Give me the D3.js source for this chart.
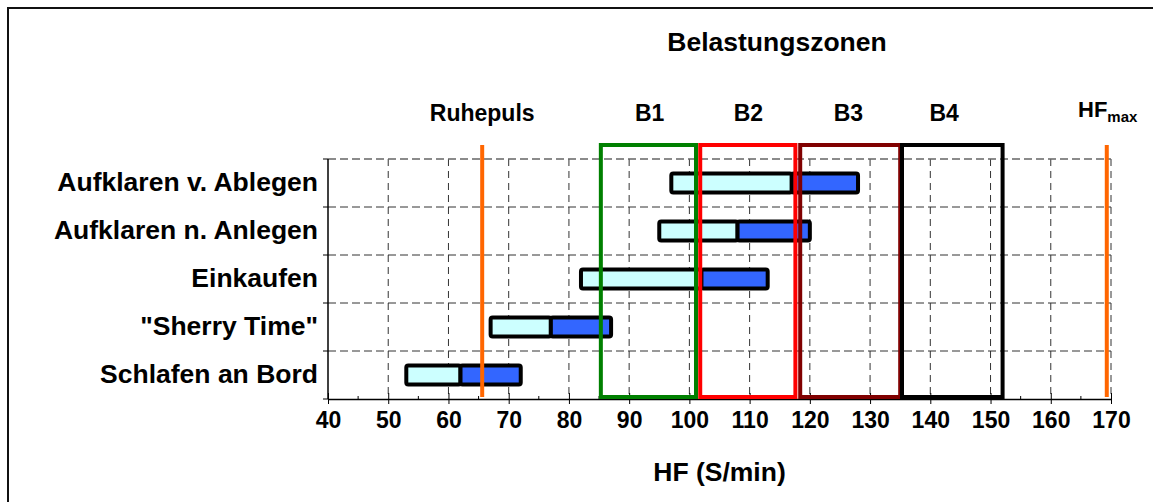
<!DOCTYPE html>
<html>
<head>
<meta charset="utf-8">
<script src="https://cdn.jsdelivr.net/npm/d3@7"></script>
<style>
  html, body { margin: 0; padding: 0; background: #fff; }
  svg { display: block; font-family: Arial, "Liberation Sans", sans-serif; font-weight: bold; }
</style>
</head>
<body>
<svg id="chart" width="1153" height="502"></svg>
<script>
// Activities (top to bottom) with heart-rate ranges: start, typical, end (beats/min)
const activities = ["Aufklaren v. Ablegen", "Aufklaren n. Anlegen", "Einkaufen", "\"Sherry Time\"", "Schlafen an Bord"];
const hfStart = [97, 95, 82, 67, 53];
const hfMid   = [117, 108, 102, 77, 62];
const hfEnd   = [128, 120, 113, 87, 72];

// Load zones B1..B4
const zoneNames = ["B1", "B2", "B3", "B4"];
const zoneFrom  = [85.3, 101.8, 118.4, 135.3];
const zoneTo    = [101.1, 117.6, 135.0, 152.0];
const zoneColors = ["#008000", "#ff0000", "#800000", "#000000"];
const zoneLabelAt = [93.4, 109.8, 126.4, 142.3];

// Reference lines
const restingHF = 65.6;
const maxHF = 169.3;

const xTicks = [40, 50, 60, 70, 80, 90, 100, 110, 120, 130, 140, 150, 160, 170];
const xMinorTicks = [45, 55, 65, 75, 85, 95, 105, 115, 125, 135, 145, 155, 165];

const svg = d3.select("#chart");
const FONT = "Arial, 'Liberation Sans', sans-serif";

// outer frame
svg.append("rect").attr("x", 8).attr("y", 8).attr("width", 1300).attr("height", 700)
  .attr("fill", "none").attr("stroke", "#111").attr("stroke-width", 2);

const pLeft = 328, pRight = 1111, pTop = 159, pBottom = 399;
const x = d3.scaleLinear().domain([40, 170]).range([pLeft, pRight]);
const y = d3.scaleBand().domain(activities).range([pTop, pBottom]);

// grid
const grid = svg.append("g");
grid.selectAll("line.v").data(xTicks.slice(1)).join("line")
  .attr("x1", d => x(d)).attr("x2", d => x(d))
  .attr("y1", pTop).attr("y2", pBottom)
  .attr("stroke", "#333").attr("stroke-width", 1).attr("stroke-dasharray", "7,5");
const hLines = activities.map(a => y(a));
grid.selectAll("line.h").data(hLines).join("line")
  .attr("x1", pLeft).attr("x2", pRight)
  .attr("y1", d => d).attr("y2", d => d)
  .attr("stroke", d => d === pTop ? "#666" : "#333").attr("stroke-width", d => d === pTop ? 1.5 : 1)
  .attr("stroke-dasharray", "8,4");

// axes
const xAxis = svg.append("g").attr("transform", `translate(0,${pBottom})`)
  .call(d3.axisBottom(x).tickValues(xTicks).tickSize(5).tickSizeOuter(0).tickPadding(8));
xAxis.select(".domain").attr("stroke", "#000").attr("stroke-width", 1.5);
xAxis.selectAll(".tick line").attr("y1", -6).attr("stroke", "#000");
xAxis.selectAll(".tick text").attr("font-size", 23).attr("font-weight", "bold")
  .attr("font-family", FONT).attr("fill", "#000");
svg.append("g").selectAll("line").data(xMinorTicks).join("line")
  .attr("x1", d => x(d)).attr("x2", d => x(d))
  .attr("y1", pBottom - 3).attr("y2", pBottom).attr("stroke", "#000");

const yAxis = svg.append("g").attr("transform", `translate(${pLeft},0)`)
  .call(d3.axisLeft(y).tickSize(0).tickPadding(10));
yAxis.select(".domain").remove();
yAxis.selectAll(".tick text").attr("font-size", 26.5).attr("font-weight", "bold")
  .attr("font-family", FONT).attr("fill", "#000");
svg.append("line").attr("x1", pLeft).attr("x2", pLeft).attr("y1", pTop).attr("y2", pBottom)
  .attr("stroke", "#000").attr("stroke-width", 1.5);
svg.append("g").selectAll("line").data(hLines.concat([pBottom])).join("line")
  .attr("x1", pLeft - 5).attr("x2", pLeft).attr("y1", d => d).attr("y2", d => d)
  .attr("stroke", "#000");

// bars: two segments each
const barH = 19;
const bars = svg.append("g");
activities.forEach((a, i) => {
  const cy = y(a) + y.bandwidth() / 2;
  bars.append("rect")
    .attr("x", x(hfStart[i])).attr("y", cy - barH / 2)
    .attr("width", x(hfMid[i]) - x(hfStart[i])).attr("height", barH)
    .attr("rx", 2).attr("fill", "#ccffff").attr("stroke", "#000").attr("stroke-width", 4);
  bars.append("rect")
    .attr("x", x(hfMid[i])).attr("y", cy - barH / 2)
    .attr("width", x(hfEnd[i]) - x(hfMid[i])).attr("height", barH)
    .attr("rx", 2).attr("fill", "#3366ff").attr("stroke", "#000").attr("stroke-width", 4);
});

// zones
const zTop = 145, zBottom = 397;
svg.append("g").selectAll("rect").data(zoneNames).join("rect")
  .attr("x", (d, i) => x(zoneFrom[i])).attr("y", zTop)
  .attr("width", (d, i) => x(zoneTo[i]) - x(zoneFrom[i])).attr("height", zBottom - zTop)
  .attr("fill", "none").attr("stroke", (d, i) => zoneColors[i]).attr("stroke-width", 4);

// resting and max heart rate lines
svg.append("g").selectAll("line").data([restingHF, maxHF]).join("line")
  .attr("x1", d => x(d)).attr("x2", d => x(d)).attr("y1", zTop).attr("y2", zBottom)
  .attr("stroke", "#ff6600").attr("stroke-width", 4);

// labels above the plot
const labelY = 121;
svg.append("text").attr("x", x(restingHF)).attr("y", labelY).attr("text-anchor", "middle")
  .attr("font-size", 23).text("Ruhepuls");
svg.append("g").selectAll("text").data(zoneNames).join("text")
  .attr("x", (d, i) => x(zoneLabelAt[i])).attr("y", labelY).attr("text-anchor", "middle")
  .attr("font-size", 23).text(d => d);
const hfMaxLabel = svg.append("text").attr("x", 1078).attr("y", 117)
  .attr("text-anchor", "start").attr("font-size", 22);
hfMaxLabel.append("tspan").text("HF");
hfMaxLabel.append("tspan").attr("font-size", 15).attr("dy", 5).text("max");

svg.append("text").attr("x", 777).attr("y", 51).attr("text-anchor", "middle")
  .attr("font-size", 26.5).text("Belastungszonen");
svg.append("text").attr("x", (pLeft + pRight) / 2).attr("y", 481).attr("text-anchor", "middle")
  .attr("font-size", 26.5).text("HF (S/min)");
</script>
</body>
</html>
